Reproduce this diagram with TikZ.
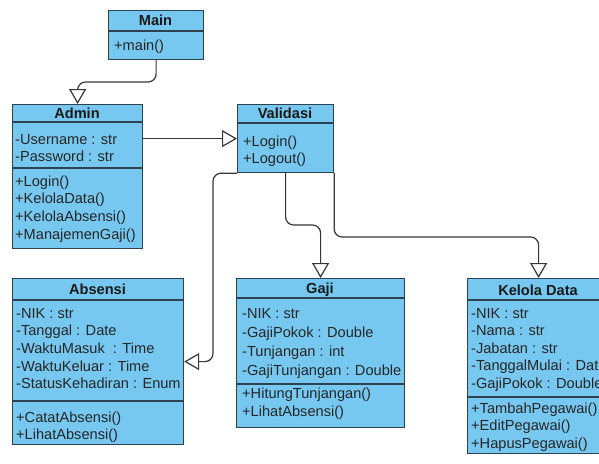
\documentclass[tikz,border=0pt]{standalone}
\usepackage{fontspec}
\setmainfont{Liberation Sans}
\usetikzlibrary{arrows.meta,calc}
\definecolor{boxfill}{RGB}{118,200,240}
\definecolor{boxline}{RGB}{45,65,80}
\definecolor{conn}{RGB}{55,55,55}
\tikzset{
  classbox/.style={draw=boxline, line width=1.2pt, fill=boxfill, rectangle, inner sep=0pt, anchor=north west},
  divider/.style={draw=boxline, line width=1.2pt},
  ttl/.style={font=\bfseries\fontsize{14.6}{17}\selectfont, inner sep=0pt, anchor=base, text=black!90},
  txt/.style={font=\fontsize{14.6}{17}\selectfont, inner sep=0pt, anchor=base west, text=black!85},
  gen/.style={draw=conn, line width=1.2pt, rounded corners=8pt,
    -{Triangle[open, length=15pt, width=17pt, fill=white]}},
}
% prefix, x, first centre y, spacing, list
\newcommand\rowsat[5]{%
  \foreach \t [count=\i] in {#5} {\node[txt] (#1-\i) at (#2, {#3 + 5 + (\i-1)*#4}) {\t};}}
\begin{document}
\begin{tikzpicture}[x=1pt, y=-1pt]
\useasboundingbox (0,0) rectangle (599,463);
\clip (0,0) rectangle (599,463);
\fill[white] (0,0) rectangle (599,463);

% Main
\node[classbox, minimum width=95pt, minimum height=49pt] (main) at (108,10) {};
\draw[divider] (108,31) -- (203,31);
\node[ttl] (main-t) at (155.5,25) {Main};
\rowsat{mainm}{114}{45}{17.6}{{+main()}}

% Admin
\node[classbox, minimum width=130pt, minimum height=144pt] (admin) at (12,104) {};
\draw[divider] (12,122) -- (142,122);
\draw[divider] (12,168) -- (142,168);
\node[ttl] (admin-t) at (77,118) {Admin};
\rowsat{admina}{15}{139}{17.8}{{-Username : str},{-Password : str}}
\rowsat{adminm}{15}{181}{17.8}{{+Login()},{+KelolaData()},{+KelolaAbsensi()},{+ManajemenGaji()}}

% Validasi
\node[classbox, minimum width=96pt, minimum height=68pt] (validasi) at (237,104) {};
\draw[divider] (237,123) -- (333,123);
\node[ttl] (validasi-t) at (285,118) {Validasi};
\rowsat{validasim}{243}{141}{17.6}{{+Login()},{+Logout()}}

% Absensi
\node[classbox, minimum width=171pt, minimum height=166pt] (absensi) at (12,278) {};
\draw[divider] (12,300) -- (183,300);
\draw[divider] (12,401) -- (183,401);
\node[ttl] (absensi-t) at (97.5,294) {Absensi};
\rowsat{absensia}{16}{313}{17.7}{{-NIK : str},{-Tanggal : Date},{-WaktuMasuk~~: Time},{-WaktuKeluar : Time},{-StatusKehadiran : Enum}}
\rowsat{absensim}{16}{417}{17.5}{{+CatatAbsensi()},{+LihatAbsensi()}}

% Gaji
\node[classbox, minimum width=168pt, minimum height=149pt] (gaji) at (236,278) {};
\draw[divider] (236,298) -- (404,298);
\draw[divider] (236,384) -- (404,384);
\node[ttl] (gaji-t) at (320,293) {Gaji};
\rowsat{gajia}{242}{313}{19}{{-NIK : str},{-GajiPokok : Double},{-Tunjangan : int},{-GajiTunjangan : Double}}
\rowsat{gajim}{242}{393}{18.5}{{+HitungTunjangan()},{+LihatAbsensi()}}

% Kelola Data
\node[classbox, minimum width=142pt, minimum height=175pt] (kelola) at (467,278) {};
\draw[divider] (467,300) -- (609,300);
\draw[divider] (467,397) -- (609,397);
\node[ttl] (kelola-t) at (538,295) {Kelola Data};
\rowsat{kelolaa}{471}{313}{17.5}{{-NIK : str},{-Nama : str},{-Jabatan : str},{-TanggalMulai : Date},{-GajiPokok : Double}}
\rowsat{kelolam}{471}{408}{17.5}{{+TambahPegawai()},{+EditPegawai()},{+HapusPegawai()}}

% connectors
\coordinate (c1) at (0,82);
\coordinate (c2) at (213,250);
\coordinate (c3) at (0,225);
\coordinate (c4) at (0,237);
\draw[gen] (main.south) -- (main.south |- c1) -| (admin.north);
\draw[gen] (admin.east |- validasi.west) -- (validasi.west);
\draw[gen] (validasi.south west) -| (c2) |- (absensi.east);
\draw[gen] (validasi.south) -- (validasi.south |- c3) -| (gaji.north);
\draw[gen] (validasi.south east) -- (validasi.south east |- c4) -| (kelola.north);
\end{tikzpicture}
\end{document}
